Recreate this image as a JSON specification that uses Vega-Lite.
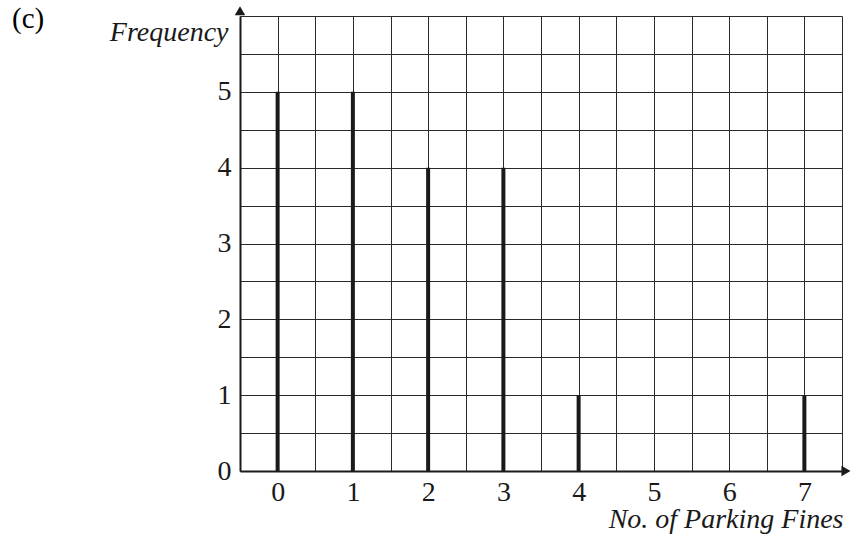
{
  "$schema": "https://vega.github.io/schema/vega-lite/v6.json",
  "width": 602,
  "height": 455,
  "autosize": {"type": "none"},
  "padding": {"left": 240, "top": 16, "right": 14, "bottom": 71},
  "background": "white",
  "title": {
    "text": "(c)",
    "anchor": "start",
    "frame": "group",
    "orient": "top",
    "offset": 0,
    "baseline": "alphabetic",
    "dx": -228,
    "dy": 55,
    "font": "Liberation Serif",
    "fontSize": 29,
    "fontWeight": "normal",
    "color": "#000000"
  },
  "config": {
    "view": {"stroke": null},
    "axis": {
      "labelFont": "Liberation Serif",
      "titleFont": "Liberation Serif",
      "labelColor": "#1a1a1a",
      "titleColor": "#1a1a1a",
      "gridColor": "#2a2a2a",
      "gridOpacity": 1,
      "gridWidth": 1,
      "domainColor": "#1a1a1a",
      "domainWidth": 2,
      "ticks": false,
      "tickCount": 100,
      "labelOverlap": false
    }
  },
  "datasets": {
    "fines": [
      {"fines": 0, "frequency": 5},
      {"fines": 1, "frequency": 5},
      {"fines": 2, "frequency": 4},
      {"fines": 3, "frequency": 4},
      {"fines": 4, "frequency": 1},
      {"fines": 5, "frequency": 0},
      {"fines": 6, "frequency": 0},
      {"fines": 7, "frequency": 1}
    ],
    "arrows": [
      {"ax": 7.553, "ay": 0, "dir": "x"},
      {"ax": -0.5, "ay": 6.07, "dir": "y"}
    ]
  },
  "layer": [
    {
      "data": {"name": "fines"},
      "mark": {"type": "rule", "strokeWidth": 4, "color": "#1a1a1a"},
      "encoding": {
        "x": {
          "field": "fines",
          "type": "quantitative",
          "scale": {"domain": [-0.5, 7.5], "nice": false, "zero": false},
          "axis": {
            "values": [-0.5, 0, 0.5, 1, 1.5, 2, 2.5, 3, 3.5, 4, 4.5, 5, 5.5, 6, 6.5, 7, 7.5],
            "format": ".0f",
            "labelExpr": "datum.value % 1 === 0 ? datum.label : ''",
            "labelFontSize": 28,
            "labelPadding": 7,
            "labelBaseline": "top",
            "title": "No. of Parking Fines",
            "titleFontSize": 28,
            "titleFontStyle": "italic",
            "titleFontWeight": "normal",
            "titleAlign": "right",
            "titleBaseline": "alphabetic",
            "titleX": 603,
            "titleY": 56
          }
        },
        "y": {
          "field": "frequency",
          "type": "quantitative",
          "scale": {"domain": [0, 6], "nice": false},
          "axis": {
            "values": [0, 0.5, 1, 1.5, 2, 2.5, 3, 3.5, 4, 4.5, 5, 5.5, 6],
            "format": ".0f",
            "labelExpr": "datum.value % 1 === 0 && datum.value < 6 ? datum.label : ''",
            "labelFontSize": 28,
            "labelPadding": 9,
            "labelBaseline": "middle",
            "title": "Frequency",
            "titleFontSize": 28,
            "titleFontStyle": "italic",
            "titleFontWeight": "normal",
            "titleAngle": 0,
            "titleAlign": "right",
            "titleBaseline": "alphabetic",
            "titleX": -12,
            "titleY": 24
          }
        },
        "y2": {"datum": 0}
      }
    },
    {
      "data": {"name": "arrows"},
      "transform": [{"filter": "datum.dir === 'x'"}],
      "mark": {"type": "point", "shape": "triangle-right", "filled": true, "color": "#1a1a1a", "opacity": 1, "size": 110, "clip": false},
      "encoding": {
        "x": {"field": "ax", "type": "quantitative"},
        "y": {"field": "ay", "type": "quantitative"}
      }
    },
    {
      "data": {"name": "arrows"},
      "transform": [{"filter": "datum.dir === 'y'"}],
      "mark": {"type": "point", "shape": "triangle-up", "filled": true, "color": "#1a1a1a", "opacity": 1, "size": 110, "clip": false},
      "encoding": {
        "x": {"field": "ax", "type": "quantitative"},
        "y": {"field": "ay", "type": "quantitative"}
      }
    }
  ]
}
